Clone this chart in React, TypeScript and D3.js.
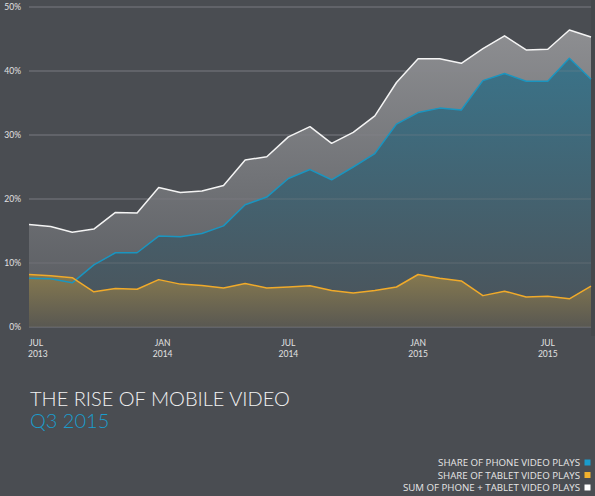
import React from "react";
import * as d3 from "d3";

const months: string[] = [
  "2013-07","2013-08","2013-09","2013-10","2013-11","2013-12",
  "2014-01","2014-02","2014-03","2014-04","2014-05","2014-06",
  "2014-07","2014-08","2014-09","2014-10","2014-11","2014-12",
  "2015-01","2015-02","2015-03","2015-04","2015-05","2015-06",
  "2015-07","2015-08","2015-09",
];
const phone: number[] = [7.6,7.55,6.9,9.7,11.6,11.6,14.2,14.1,14.6,15.8,19.1,20.3,23.2,24.6,23.0,25.0,27.1,31.7,33.5,34.2,33.9,38.5,39.6,38.4,38.4,42.0,38.7];
const tablet: number[] = [8.2,8.0,7.7,5.5,6.0,5.9,7.4,6.7,6.5,6.1,6.8,6.1,6.25,6.45,5.7,5.3,5.7,6.25,8.2,7.6,7.2,4.9,5.6,4.7,4.8,4.4,6.4];
const total: number[] = [16.0,15.7,14.8,15.3,17.9,17.8,21.8,21.0,21.25,22.1,26.1,26.6,29.7,31.3,28.7,30.4,33.0,38.2,41.9,41.9,41.2,43.5,45.5,43.3,43.4,46.4,45.3];
const yTicks: number[] = [0,10,20,30,40,50];
const xTickIdx: number[] = [0,6,12,18,24];
const xTickMonth: string[] = ["JUL","JAN","JUL","JAN","JUL"];
const xTickYear: string[] = ["2013","2014","2014","2015","2015"];
const legendLabels: string[] = [
  "SHARE OF PHONE VIDEO PLAYS",
  "SHARE OF TABLET VIDEO PLAYS",
  "SUM OF PHONE + TABLET VIDEO PLAYS",
];
const legendColors: string[] = ["#1a9ccc", "#f2b22e", "#ffffff"];

const W = 595, H = 496;
const FONT = "Lato, 'Open Sans', sans-serif";
const LFONT = "'Open Sans', Lato, sans-serif";

export default function App() {
  const x = d3.scaleLinear().domain([0, months.length - 1]).range([29, 591]);
  const y = d3.scaleLinear().domain([0, 50]).range([327, 7]);
  const idx = months.map((_, i) => i);

  const area = (vals: number[]) =>
    d3.area<number>().x((i) => x(i)).y0(y(0)).y1((i) => y(vals[i]))(idx) || "";
  const line = (vals: number[]) =>
    d3.line<number>().x((i) => x(i)).y((i) => y(vals[i]))(idx) || "";

  return (
    <svg width={W} height={H} style={{ position: "absolute", left: 0, top: 0 }} fontFamily={FONT}>
      <defs>
        <linearGradient id="gTot" x1="0" y1={y(47)} x2="0" y2={y(0)} gradientUnits="userSpaceOnUse">
          <stop offset="0" stopColor="#8e8f92" />
          <stop offset="1" stopColor="#55585d" />
        </linearGradient>
        <linearGradient id="gPh" x1="0" y1={y(42)} x2="0" y2={y(0)} gradientUnits="userSpaceOnUse">
          <stop offset="0" stopColor="#3a7389" />
          <stop offset="1" stopColor="#4c5258" />
        </linearGradient>
        <linearGradient id="gTb" x1="0" y1={y(8.5)} x2="0" y2={y(0)} gradientUnits="userSpaceOnUse">
          <stop offset="0" stopColor="#877a4f" />
          <stop offset="1" stopColor="#595852" />
        </linearGradient>
      </defs>
      <rect x={0} y={0} width={W} height={H} fill="#4a4d52" />
      <rect x={591} y={0} width={4} height={336} fill="#45484c" />

      {yTicks.map((t) => (
        <g key={t}>
          <line x1={29} x2={591} y1={y(t)} y2={y(t)} stroke="#686b70" strokeWidth={1} />
          <text x={21} y={y(t) + 3} textAnchor="end" fontSize={8.5} fill="#e2e2e2">
            {t}%
          </text>
        </g>
      ))}

      <path d={area(total)} fill="url(#gTot)" />
      <path d={area(phone)} fill="url(#gPh)" />
      <path d={area(tablet)} fill="url(#gTb)" />
      {yTicks.map((t) => (
        <line key={"o" + t} x1={29} x2={591} y1={y(t)} y2={y(t)} stroke="#8a8d92" strokeOpacity={0.35} strokeWidth={1} />
      ))}
      <path d={line(total)} fill="none" stroke="#f4f4f4" strokeWidth={1.5} strokeLinejoin="round" />
      <path d={line(phone)} fill="none" stroke="#1a95c0" strokeWidth={1.5} strokeLinejoin="round" />
      <path d={line(tablet)} fill="none" stroke="#f0aa2a" strokeWidth={1.5} strokeLinejoin="round" />

      {xTickIdx.map((i, k) => (
        <g key={i} fontSize={8.5} fill="#e2e2e2" textAnchor={k === 0 ? "start" : "middle"}>
          <text x={k === 0 ? x(i) : x(i) + (k === 1 ? 4 : 0)} y={346}>{xTickMonth[k]}</text>
          <text x={k === 0 ? x(i) - 1 : x(i) + (k === 1 ? 4 : 0)} y={357}>{xTickYear[k]}</text>
        </g>
      ))}

      <text x={30} y={406} fontSize={20} fontWeight={300} fill="#f2f2f2">THE RISE OF MOBILE VIDEO</text>
      <text x={30} y={428} fontSize={20} fontWeight={300} fill="#1a9ccc">Q3 2015</text>

      {legendLabels.map((l, k) => (
        <g key={l}>
          <text x={580} y={466 + k * 12.5} textAnchor="end" fontSize={9.7} fontFamily={LFONT} fill="#e6e6e6">{l}</text>
          <rect x={584.5} y={459.5 + k * 12.5} width={6} height={6} fill={legendColors[k]} />
        </g>
      ))}
    </svg>
  );
}
